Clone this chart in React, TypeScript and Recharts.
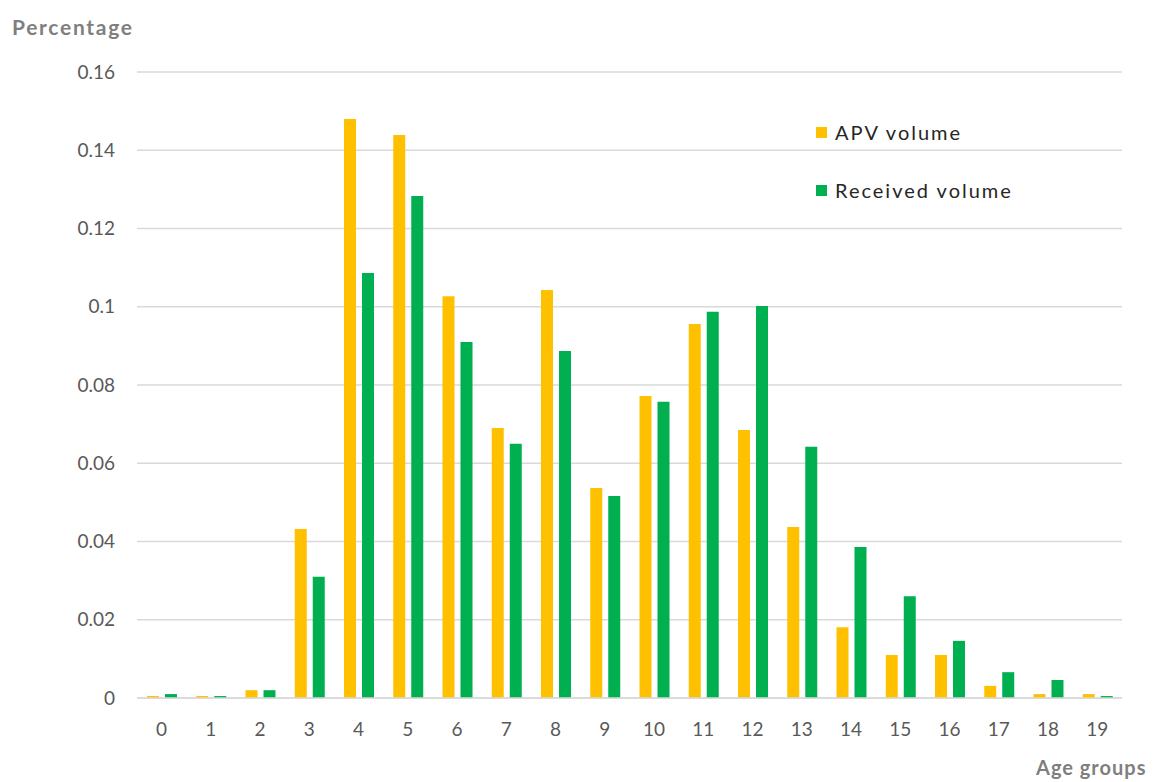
import React from 'react';
import { BarChart, Bar, XAxis, YAxis, CartesianGrid } from 'recharts';

const ageGroups = ['0','1','2','3','4','5','6','7','8','9','10','11','12','13','14','15','16','17','18','19'];
const apvVolume = [0.0005,0.0005,0.002,0.0432,0.148,0.1439,0.1027,0.069,0.1043,0.0537,0.0772,0.0956,0.0685,0.0437,0.0181,0.011,0.011,0.0031,0.001,0.001];
const receivedVolume = [0.001,0.0005,0.002,0.031,0.1086,0.1283,0.091,0.065,0.0887,0.0516,0.0757,0.0987,0.1002,0.0642,0.0386,0.026,0.0146,0.0066,0.0046,0.0005];
const yTicks = [0, 0.02, 0.04, 0.06, 0.08, 0.1, 0.12, 0.14, 0.16];
const seriesNames = ['APV volume', 'Received volume'];
const colors = ['#FFC000', '#00B050'];

const data = ageGroups.map((g, i) => ({ group: g, apv: apvVolume[i], received: receivedVolume[i] }));

const FONT = 'Lato, "Open Sans", sans-serif';

const LegendBox = () => (
  <div style={{ position: 'absolute', left: 816, top: 119, fontFamily: FONT, pointerEvents: 'none' }}>
    {seriesNames.map((n, i) => (
      <div key={n} style={{ display: 'flex', alignItems: 'center', height: 26, marginBottom: i === 0 ? 32 : 0 }}>
        <span style={{ display: 'inline-block', width: 11, height: 11, background: colors[i], marginRight: 8 }} />
        <span style={{ fontSize: 20, color: '#262626', letterSpacing: 2 }}>{n}</span>
      </div>
    ))}
  </div>
);

export default function App() {
  return (
    <div style={{ position: 'absolute', left: 0, top: 0, width: 1160, height: 782, background: '#fff', overflow: 'hidden' }}>
      <BarChart
        width={1160}
        height={782}
        data={data}
        margin={{ top: 72, right: 38, bottom: 0, left: 0 }}
        barSize={12}
        barGap={6}
      >
        <CartesianGrid vertical={false} stroke="#d9d9d9" strokeWidth={1.5} />
        <XAxis
          dataKey="group"
          height={84}
          axisLine={{ stroke: '#d9d9d9', strokeWidth: 1.5 }}
          tickLine={false}
          tickSize={0}
          tickMargin={25}
          tick={{ fill: '#595959', fontSize: 19, fontFamily: FONT }}
          label={() => (
            <text x={1036} y={775} fill="#7f7f7f" fontSize={20} fontWeight="bold" fontFamily={FONT} letterSpacing={1}>Age groups</text>
          )}
        />
        <YAxis
          width={137}
          domain={[0, 0.16]}
          ticks={yTicks}
          axisLine={false}
          tickLine={false}
          tickSize={0}
          tickMargin={22}
          tickFormatter={(v: number) => String(Number(v.toFixed(2)))}
          tick={{ fill: '#595959', fontSize: 19, fontFamily: FONT }}
          label={() => (
            <text x={12} y={35} fill="#7f7f7f" fontSize={21} fontWeight="bold" fontFamily={FONT} letterSpacing={1.7}>Percentage</text>
          )}
        />
        <Bar dataKey="apv" name={seriesNames[0]} fill={colors[0]} isAnimationActive={false} />
        <Bar dataKey="received" name={seriesNames[1]} fill={colors[1]} isAnimationActive={false} />
      </BarChart>
      <LegendBox />
    </div>
  );
}
